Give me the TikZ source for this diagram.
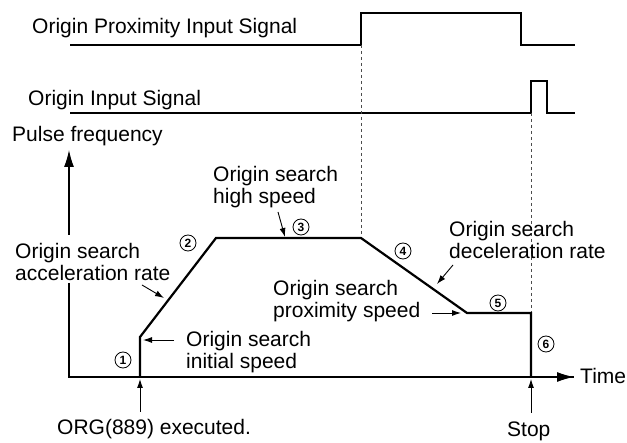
\documentclass[tikz,border=0pt]{standalone}
\usepackage{fontspec}
\setmainfont{Liberation Sans}
\usetikzlibrary{arrows.meta}
\tikzset{
  lbl/.style={anchor=base west, inner sep=0pt, font=\fontsize{21}{22}\selectfont},
  num/.style={circle, draw, line width=0.8pt, minimum size=16pt, inner sep=0pt, font=\fontsize{12}{12}\selectfont\bfseries},
  axis/.style={line width=1.2pt},
  sig/.style={line width=1.4pt},
  prof/.style={line width=2.2pt, line join=miter},
  guide/.style={line width=0.7pt, dash pattern=on 3pt off 3pt, black!70},
  bigarrow/.style={-{Latex[length=17pt,width=10pt]}},
  smallarrow/.style={line width=0.9pt, -{Latex[length=9pt,width=6pt]}}
}
\begin{document}
\begin{tikzpicture}[x=1pt,y=-1pt]
\useasboundingbox (0,0) rectangle (627,443);
% signals
\node[lbl] (tprox) at (32,34) {Origin Proximity Input Signal};
\node[lbl] (torg) at (28,106) {Origin Input Signal};
\coordinate (p0) at (70,45); \coordinate (p1) at (361,45); \coordinate (p2) at (361,13);
\coordinate (p3) at (521,13); \coordinate (p4) at (521,45); \coordinate (p5) at (575,45);
\draw[sig] (p0) -- (p1) -- (p2) -- (p3) -- (p4) -- (p5);
\coordinate (o0) at (70,113); \coordinate (o1) at (531,113); \coordinate (o2) at (531,81);
\coordinate (o3) at (547,81); \coordinate (o4) at (547,113); \coordinate (o5) at (575,113);
\draw[sig] (o0) -- (o1) -- (o2) -- (o3) -- (o4) -- (o5);
% axes
\coordinate (orig) at (69,377);
\coordinate (ylow) at (69,283);
\coordinate (yhigh) at (69,235);
\coordinate (ytip) at (69,150);
\coordinate (xtip) at (574,377);
\draw[axis] (ylow) -- (orig) -- (xtip);
\draw[axis,bigarrow] (orig) -- (xtip);
\draw[axis,bigarrow] (yhigh) -- (ytip);
\node[lbl] (tpulse) at (12,142) {Pulse frequency};
\node[lbl] (ttime) at (580,384) {Time};
% profile
\coordinate (a) at (140,377); \coordinate (b) at (140,337); \coordinate (c) at (216,238);
\coordinate (d) at (361,238); \coordinate (e) at (467,313); \coordinate (f) at (531,313);
\coordinate (g) at (531,377);
\draw[guide] (p1) -- (d);
\draw[guide] (o1) -- (f);
\draw[prof] (a) -- (b) -- (c) -- (d) -- (e) -- (f) -- (g);
% labels
\node[lbl] (tacc1) at (15,259) {Origin search};
\node[lbl] (tacc2) at (15,281) {acceleration rate};
\node[lbl] (thi1) at (213,182) {Origin search};
\node[lbl] (thi2) at (213,204) {high speed};
\node[lbl] (tini1) at (186,347) {Origin search};
\node[lbl] (tini2) at (186,369) {initial speed};
\node[lbl] (tdec1) at (449,237) {Origin search};
\node[lbl] (tdec2) at (449,259) {deceleration rate};
\node[lbl] (tpx1) at (273,296) {Origin search};
\node[lbl] (tpx2) at (273,318) {proximity speed};
\node[lbl] (torgx) at (57,435) {ORG(889) executed.};
\node[lbl] (tstop) at (507,437) {Stop};
% small arrows
\coordinate (s1a) at (142,285); \coordinate (s1b) at (164,298);
\draw[smallarrow] (s1a) -- (s1b);
\coordinate (s2a) at (278,212); \coordinate (s2b) at (285,237);
\draw[smallarrow] (s2a) -- (s2b);
\coordinate (s3a) at (174,340); \coordinate (s3b) at (143,340);
\draw[smallarrow] (s3a) -- (s3b);
\coordinate (s4a) at (453,265); \coordinate (s4b) at (437,284);
\draw[smallarrow] (s4a) -- (s4b);
\coordinate (s5a) at (432,313); \coordinate (s5b) at (461,313);
\draw[smallarrow] (s5a) -- (s5b);
\coordinate (s6a) at (140,412); \coordinate (s6b) at (140,379);
\draw[smallarrow] (s6a) -- (s6b);
\coordinate (s7a) at (531,413); \coordinate (s7b) at (531,379);
\draw[smallarrow] (s7a) -- (s7b);
% circled numbers
\node[num] (n1) at (123,360) {1};
\node[num] (n2) at (188,243) {2};
\node[num] (n3) at (301,227) {3};
\node[num] (n4) at (403,251) {4};
\node[num] (n5) at (498,303) {5};
\node[num] (n6) at (546,344) {6};
\end{tikzpicture}
\end{document}
